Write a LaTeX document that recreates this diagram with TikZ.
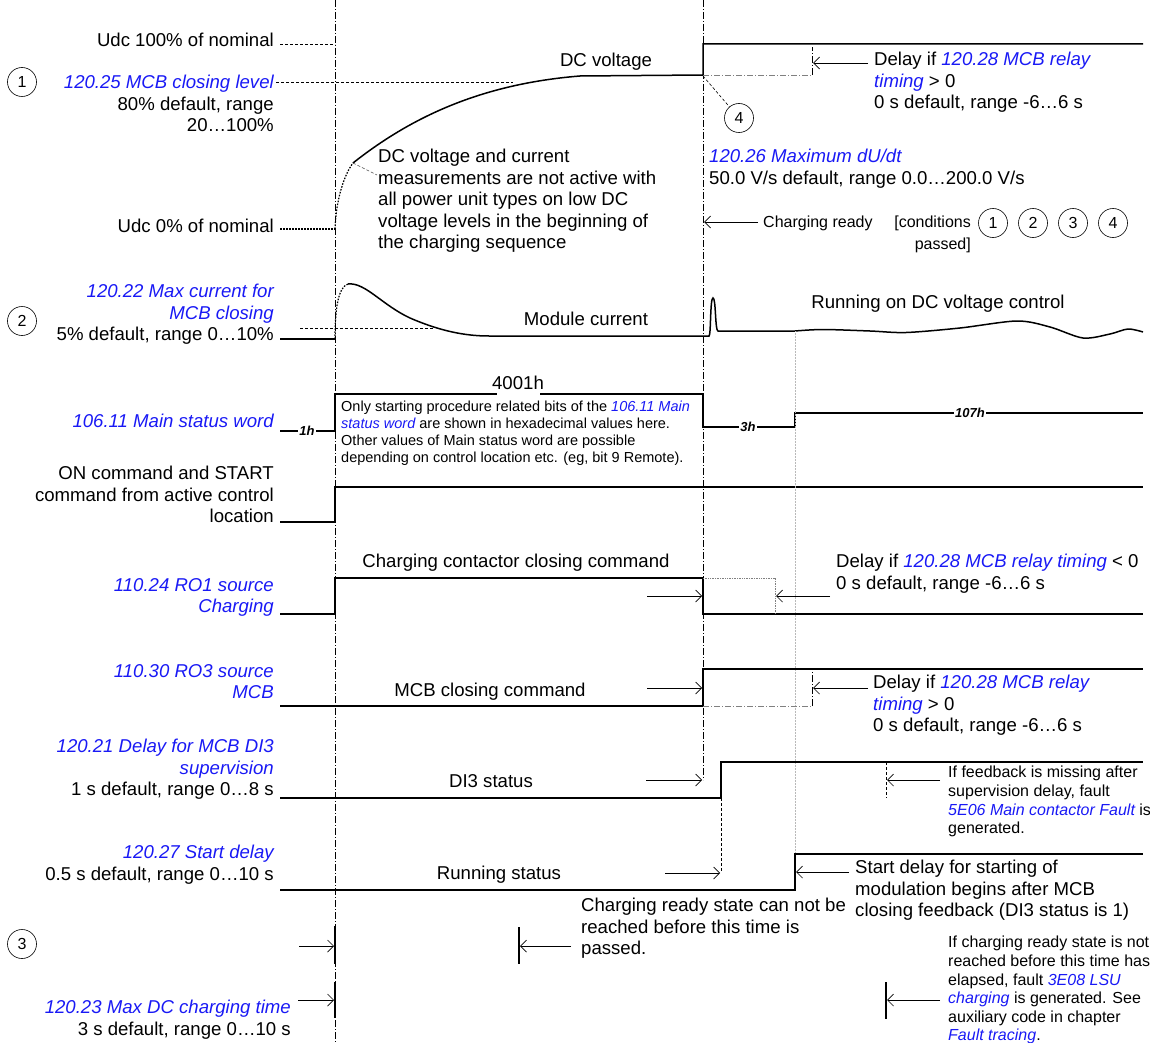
\documentclass[tikz,border=0pt]{standalone}
\usepackage{fontspec}
\setmainfont{Liberation Sans}
\usetikzlibrary{arrows.meta}
\definecolor{pblue}{RGB}{25,25,245}
\newcommand\hlb[1]{{\color{pblue}\itshape #1}}
\begin{document}
\begin{tikzpicture}[x=1pt,y=-1pt,
  txt/.style={inner sep=0pt, font=\fontsize{18.6}{21.5}\selectfont},
  sm/.style={inner sep=0pt, font=\fontsize{16}{18.6}\selectfont},
  note/.style={inner sep=0pt, font=\fontsize{14.5}{17}\selectfont},
  sig/.style={line width=1.5pt},
  guide/.style={line width=0.6pt, dash pattern=on 7pt off 2pt on 1pt off 2pt},
  dsh/.style={line width=0.6pt, dash pattern=on 3pt off 2pt},
  dtd/.style={line width=1.2pt, dash pattern=on 1.6pt off 1.4pt},
  gdd/.style={line width=0.7pt, gray, dash pattern=on 6pt off 2pt on 1pt off 2pt},
  arr/.style={line width=0.7pt, -{Straight Barb[length=6pt,width=12pt]}},
  num/.style={circle, draw, line width=0.6pt, minimum size=29pt, inner sep=0pt, font=\fontsize{16}{16}\selectfont},
  val/.style={fill=white, inner sep=1pt, font=\fontsize{13}{13}\selectfont\bfseries\itshape},
  tick/.style={line width=1.5pt}]
\useasboundingbox (0,0) rectangle (1150,1043);

% guide lines
\draw[guide] (335,0) -- (335,1043);
\draw[guide] (703,0) -- (703,780);

% ---------- DC voltage ----------
\node[txt, anchor=base east] (u100) at (274,46.5) {Udc 100\% of nominal};
\draw[dsh] (280,44) -- (335,44);
\node[num] (c1) at (22,82) {1};
\node[txt, anchor=north east, align=right] (p2025) at (274,75.1) {\hlb{120.25 MCB closing level}\\80\% default, range\\20…100\%};
\draw[dsh] (276,82) -- (513,82);
\node[txt, anchor=base east] (u0) at (274,232.5) {Udc 0\% of nominal};
\draw[dtd] (280,229) -- (335,229);
\draw[dtd] (335,229) .. controls (336,200) and (344,175) .. (353,163);
\draw[sig] (353,163) .. controls (410,118) and (480,84) .. (580,76) -- (703,75) -- (703,44) -- (1143,44);
\draw[dsh, black!70] (353,163) -- (377,175);
\node[txt, anchor=base] (dcv) at (606,66.5) {DC voltage};
\node[txt, anchor=north west, align=left] (dcnote) at (378,149.1) {DC voltage and current\\measurements are not active with\\all power unit types on low DC\\voltage levels in the beginning of\\the charging sequence};
\draw[gdd] (703,75) -- (812,75);
\draw[guide] (812,75) -- (812,47);
\coordinate (a1s) at (868,63);
\coordinate (a1e) at (813,63);
\draw[arr] (a1s) -- (a1e);
\node[txt, anchor=north west, align=left] (d1) at (874,52.1) {Delay if \hlb{120.28 MCB relay}\\\hlb{timing} > 0\\0 s default, range -6…6 s};
\node[num] (c4) at (739,118) {4};
\draw[dsh] (703,76) -- (c4);
\node[txt, anchor=north west, align=left] (p2026) at (709,149.1) {\hlb{120.26 Maximum dU/dt}\\50.0 V/s default, range 0.0…200.0 V/s};
\coordinate (crs) at (758,222);
\coordinate (cre) at (704,222);
\draw[arr] (crs) -- (cre);
\node[sm, anchor=base west] (cr) at (763,227.8) {Charging ready};
\node[inner sep=0pt, font=\fontsize{16}{22}\selectfont, anchor=north east, align=right] (cond) at (971,216.1) {[conditions\\passed]};
\node[num] (k1) at (993,223) {1};
\node[num] (k2) at (1033,223) {2};
\node[num] (k3) at (1073,223) {3};
\node[num] (k4) at (1113,223) {4};

% ---------- Module current ----------
\node[num] (c2) at (22,321) {2};
\node[txt, anchor=north east, align=right] (p2022) at (274,284.1) {\hlb{120.22 Max current for}\\\hlb{MCB closing}\\5\% default, range 0…10\%};
\draw[sig] (280,339) -- (335,339);
\draw[dsh] (300,328) -- (433,328);
\draw[dtd] (335,339) .. controls (335,305) and (339,287) .. (348,284);
\draw[sig] (348,284) .. controls (365,282) and (382,305) .. (410,318) .. controls (440,331) and (465,336) .. (489,336) -- (709,336) .. controls (711,336) and (710,298) .. (713,298) .. controls (716,298) and (715,331) .. (718,331) -- (795,331);
\draw[sig] plot[smooth] coordinates {(795,331) (823,329.5) (870,331) (906,332.5) (960,328) (1017,321) (1050,327) (1083,338) (1110,334) (1128,329) (1143,332)};
\node[txt, anchor=base] (modc) at (586,325.5) {Module current};
\node[txt, anchor=base] (run) at (938,308.5) {Running on DC voltage control};

% ---------- Main status word ----------
\node[txt, anchor=base east] (p0611) at (274,427.5) {\hlb{106.11 Main status word}};
\draw[sig] (280,431) -- (335,431) -- (335,394) -- (497,394);
\draw[sig] (540,394) -- (703,394) -- (703,427) -- (795,427) -- (795,413) -- (1143,413);
\node[val] (v1) at (307,431) {1h};
\node[val] (v3) at (748,427) {3h};
\node[val] (v107) at (970,413) {107h};
\node[txt, anchor=base] (v4001) at (518,389.5) {4001h};
\node[note, anchor=north west, align=left] (swnote) at (341,400.6) {Only starting procedure related bits of the \hlb{106.11 Main}\\\hlb{status word} are shown in hexadecimal values here.\\Other values of Main status word are possible\\depending on control location etc. (eg, bit 9 Remote).};

% ---------- ON / START ----------
\node[txt, anchor=north east, align=right] (onc) at (274,466.1) {ON command and START\\command from active control\\location};
\draw[sig] (280,522) -- (335,522) -- (335,487) -- (1143,487);

\draw[gray!55, line width=0.5pt, densely dotted] (795,331) -- (795,854);

% ---------- RO1 charging ----------
\node[txt, anchor=north east, align=right] (p1024) at (274,578.1) {\hlb{110.24 RO1 source}\\\hlb{Charging}};
\draw[sig] (280,614) -- (335,614) -- (335,578) -- (703,578) -- (703,614) -- (1143,614);
\draw[gray, line width=0.7pt, densely dotted] (703,578) -- (775,578) -- (775,614);
\coordinate (b1s) at (647,596);
\coordinate (b1e) at (702,596);
\draw[arr] (b1s) -- (b1e);
\coordinate (b2s) at (830,596);
\coordinate (b2e) at (776,596);
\draw[arr] (b2s) -- (b2e);
\node[txt, anchor=base] (ccc) at (516,567.5) {Charging contactor closing command};
\node[txt, anchor=north west, align=left] (d2) at (836,554.1) {Delay if \hlb{120.28 MCB relay timing} < 0\\0 s default, range -6…6 s};

% ---------- RO3 MCB ----------
\node[txt, anchor=north east, align=right] (p1030) at (274,664.1) {\hlb{110.30 RO3 source}\\\hlb{MCB}};
\draw[sig] (280,706) -- (703,706) -- (703,669) -- (1143,669);
\draw[gdd] (703,706) -- (812,706);
\draw[guide] (812,706) -- (812,669);
\coordinate (m1s) at (647,688);
\coordinate (m1e) at (702,688);
\draw[arr] (m1s) -- (m1e);
\coordinate (m2s) at (868,688);
\coordinate (m2e) at (813,688);
\draw[arr] (m2s) -- (m2e);
\node[txt, anchor=base] (mcc) at (490,696.5) {MCB closing command};
\node[txt, anchor=north west, align=left] (d3) at (873,675.1) {Delay if \hlb{120.28 MCB relay}\\\hlb{timing} > 0\\0 s default, range -6…6 s};

% ---------- DI3 ----------
\node[txt, anchor=north east, align=right] (p2021) at (274,739.1) {\hlb{120.21 Delay for MCB DI3}\\\hlb{supervision}\\1 s default, range 0…8 s};
\draw[sig] (280,798) -- (721,798) -- (721,762) -- (1143,762);
\draw[dsh] (721,798) -- (721,872);
\draw[dsh] (886,762) -- (886,798);
\coordinate (e1s) at (646,780);
\coordinate (e1e) at (702,780);
\draw[arr] (e1s) -- (e1e);
\coordinate (e2s) at (940,780);
\coordinate (e2e) at (887,780);
\draw[arr] (e2s) -- (e2e);
\node[txt, anchor=base] (di3) at (491,787.5) {DI3 status};
\node[sm, anchor=north west, align=left] (fbnote) at (948,766.1) {If feedback is missing after\\supervision delay, fault\\\hlb{5E06 Main contactor Fault} is\\generated.};

% ---------- Running status ----------
\node[txt, anchor=north east, align=right] (p2027) at (274,845.1) {\hlb{120.27 Start delay}\\0.5 s default, range 0…10 s};
\draw[sig] (280,890) -- (795,890) -- (795,854) -- (1143,854);
\coordinate (r1s) at (665,873);
\coordinate (r1e) at (720,873);
\draw[arr] (r1s) -- (r1e);
\coordinate (r2s) at (849,872);
\coordinate (r2e) at (796,872);
\draw[arr] (r2s) -- (r2e);
\node[txt, anchor=base] (rst) at (499,879.5) {Running status};
\node[txt, anchor=north west, align=left] (sdnote) at (855,860.1) {Start delay for starting of\\modulation begins after MCB\\closing feedback (DI3 status is 1)};
\node[txt, anchor=north west, align=left] (crnote) at (581,898.1) {Charging ready state can not be\\reached before this time is\\passed.};

% ---------- Section 3 ----------
\node[num] (c3) at (22,944) {3};
\draw[tick] (335,926) -- (335,964);
\coordinate (t1s) at (299,946);
\coordinate (t1e) at (334,946);
\draw[arr] (t1s) -- (t1e);
\draw[tick] (519,927) -- (519,964);
\coordinate (t2s) at (571,946);
\coordinate (t2e) at (520,946);
\draw[arr] (t2s) -- (t2e);
\draw[tick] (335,982) -- (335,1018);
\coordinate (t3s) at (298,1000);
\coordinate (t3e) at (334,1000);
\draw[arr] (t3s) -- (t3e);
\draw[tick] (886,982) -- (886,1019);
\coordinate (t4s) at (940,1000);
\coordinate (t4e) at (887,1000);
\draw[arr] (t4s) -- (t4e);
\node[txt, anchor=north east, align=right] (p2023) at (291,1000.1) {\hlb{120.23 Max DC charging time}\\3 s default, range 0…10 s};
\node[sm, anchor=north west, align=left] (lsunote) at (948,936.1) {If charging ready state is not\\reached before this time has\\elapsed, fault \hlb{3E08 LSU}\\\hlb{charging} is generated. See\\auxiliary code in chapter\\\hlb{Fault tracing}.};
\end{tikzpicture}
\end{document}
